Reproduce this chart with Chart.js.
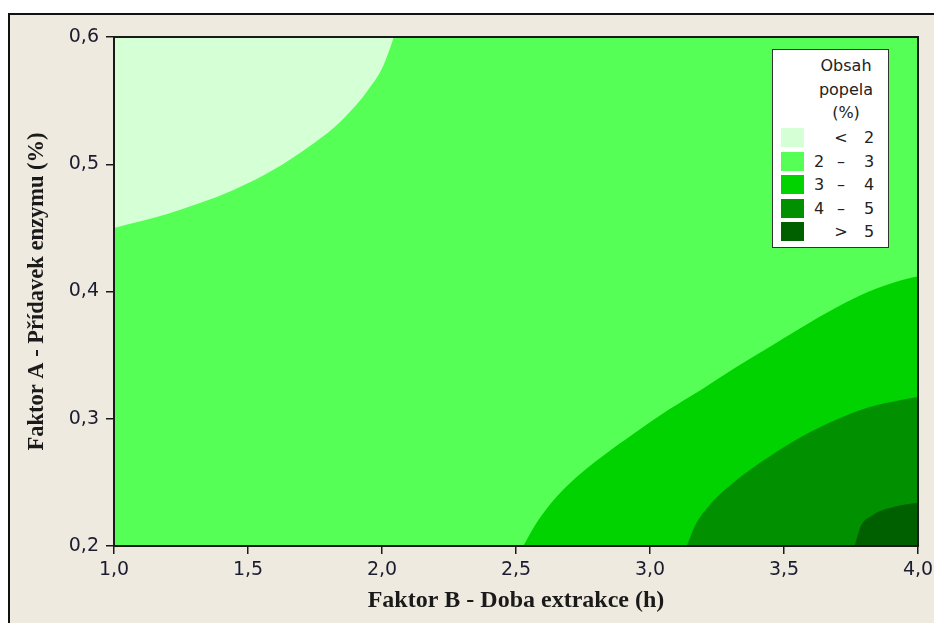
<!DOCTYPE html>
<html>
<head>
<meta charset="utf-8">
<script src="https://cdn.jsdelivr.net/npm/chart.js@4"></script>
<style>
  html, body { margin:0; padding:0; background:#ffffff; }
  #wrap { position:relative; width:934px; height:623px; overflow:hidden; }
  #frame { position:absolute; left:8px; top:13px; width:930px; height:620px; background:#efeae0;
           border-top:2px solid #111; border-left:2px solid #111; }
  #c { position:absolute; left:0; top:0; }
  #legend { position:absolute; left:772px; top:49px; width:115px; height:197px; background:#fff;
            border:1.5px solid #333; font-family:"DejaVu Sans", sans-serif; font-size:16px; color:#222; }
  #legend .title { position:absolute; left:38px; width:70px; text-align:center; line-height:23.5px; top:4px; }
  #legend .row { position:absolute; left:0; width:115px; height:19px; }
  #legend .sw { position:absolute; left:8px; top:0; width:23px; height:19px; }
  #legend .t { position:absolute; top:0; line-height:19px; text-align:center; width:16px; }
</style>
</head>
<body>
<div id="wrap">
  <div id="frame"></div>
  <canvas id="c" width="934" height="623"></canvas>
  <div id="legend"></div>
</div>
<script>
// ---- data ----
const xTicks = [1.0, 1.5, 2.0, 2.5, 3.0, 3.5, 4.0];
const yTicks = [0.2, 0.3, 0.4, 0.5, 0.6];

// level labels and colours
const levelLabels = [["", "<", "2"], ["2", "\u2013", "3"], ["3", "\u2013", "4"], ["4", "\u2013", "5"], ["", ">", "5"]];
const levelColors = ["#d5ffd5", "#55ff55", "#00d300", "#009000", "#006000"];

// contour boundary: level 2 (region < 2 lies above this curve)
const c2x = [1.000, 1.199, 1.448, 1.598, 1.722, 1.822, 1.897, 1.947, 1.997, 2.028, 2.044];
const c2y = [0.450, 0.461, 0.480, 0.496, 0.513, 0.529, 0.545, 0.558, 0.574, 0.590, 0.600];

// contour boundary: level 3 (region > 3 lies below)
const c3x = [2.527, 2.570, 2.632, 2.720, 2.819, 2.944, 3.069, 3.193, 3.318, 3.443, 3.567, 3.692, 3.817, 3.941, 4.000];
const c3y = [0.200, 0.216, 0.234, 0.253, 0.270, 0.289, 0.307, 0.323, 0.340, 0.356, 0.372, 0.387, 0.400, 0.409, 0.412];

// contour boundary: level 4
const c4x = [3.137, 3.168, 3.218, 3.318, 3.443, 3.567, 3.692, 3.817, 3.941, 4.000];
const c4y = [0.200, 0.216, 0.231, 0.251, 0.270, 0.286, 0.299, 0.309, 0.315, 0.317];

// contour boundary: level 5
const c5x = [3.764, 3.785, 3.829, 3.916, 4.000];
const c5y = [0.200, 0.215, 0.224, 0.231, 0.234];

// whole domain (base level 2-3)
const domX = [1.0, 4.0];
const domY = [0.6, 0.6];

const pts = (xs, ys) => xs.map((x, i) => ({x: x, y: ys[i]}));
const fmt = v => Number(v).toFixed(1).replace('.', ',');

function region(xs, ys, color, fill, order) {
  return { data: pts(xs, ys), borderWidth: 0, borderColor: color, backgroundColor: color,
           pointRadius: 0, fill: fill, cubicInterpolationMode: 'monotone', order: order };
}

const frameBorder = {
  id: 'frameBorder',
  afterDatasetsDraw(chart) {
    const a = chart.chartArea, ctx = chart.ctx;
    ctx.save();
    ctx.strokeStyle = '#1a1a1a';
    ctx.lineWidth = 2;
    ctx.strokeRect(a.left, a.top, a.right - a.left, a.bottom - a.top);
    ctx.restore();
  }
};

const tickFont = { family: '"DejaVu Sans", sans-serif', size: 19 };
const titleFontX = { family: '"Liberation Serif", "Times New Roman", serif', size: 24, weight: 'bold' };
const titleFontY = { family: '"Liberation Serif", "Times New Roman", serif', size: 22.5, weight: 'bold' };

new Chart(document.getElementById('c'), {
  type: 'line',
  data: {
    datasets: [
      region(domX, domY, levelColors[1], 'start', 5),
      region(c2x, c2y, levelColors[0], 'end', 4),
      region(c3x, c3y, levelColors[2], 'start', 3),
      region(c4x, c4y, levelColors[3], 'start', 2),
      region(c5x, c5y, levelColors[4], 'start', 1)
    ]
  },
  options: {
    responsive: false,
    animation: false,
    events: [],
    layout: { padding: { top: 37, right: 16, left: 0, bottom: 0 } },
    plugins: { legend: { display: false }, tooltip: { enabled: false } },
    scales: {
      x: {
        type: 'linear', min: xTicks[0], max: xTicks[xTicks.length - 1],
        afterBuildTicks: s => { s.ticks = xTicks.map(v => ({ value: v })); },
        afterFit: s => { s.height = 77; s.paddingLeft = 0; s.paddingRight = 0; },
        ticks: { callback: fmt, font: tickFont, color: '#1c1c30', padding: 5, maxRotation: 0 },
        grid: { display: true, drawOnChartArea: false, drawTicks: true, tickLength: 8, color: '#1a1a1a', lineWidth: 1.5 },
        border: { display: false },
        title: { display: true, text: 'Faktor B - Doba extrakce (h)', font: titleFontX, color: '#1a1a1a',
                 padding: { top: 0, bottom: 8 } }
      },
      y: {
        type: 'linear', min: yTicks[0], max: yTicks[yTicks.length - 1],
        afterBuildTicks: s => { s.ticks = yTicks.map(v => ({ value: v })); },
        afterFit: s => { s.width = 114; s.paddingTop = 0; s.paddingBottom = 0; },
        ticks: { callback: fmt, font: tickFont, color: '#1c1c30', padding: 7 },
        grid: { display: true, drawOnChartArea: false, drawTicks: true, tickLength: 8, color: '#1a1a1a', lineWidth: 1.5 },
        border: { display: false },
        title: { display: true, text: 'Faktor A - Přídavek enzymu (%)', font: titleFontY, color: '#1a1a1a',
                 padding: { top: 24, bottom: 0 } }
      }
    }
  },
  plugins: [frameBorder]
});

// ---- legend (HTML text) ----
const lg = document.getElementById('legend');
const title = document.createElement('div');
title.className = 'title';
title.innerHTML = 'Obsah<br>popela<br>(%)';
lg.appendChild(title);
levelLabels.forEach((lab, i) => {
  const row = document.createElement('div');
  row.className = 'row';
  row.style.top = (78 + i * 23.6) + 'px';
  const sw = document.createElement('div');
  sw.className = 'sw';
  sw.style.background = levelColors[i];
  row.appendChild(sw);
  const cols = [38, 60, 88];
  lab.forEach((t, j) => {
    const s = document.createElement('div');
    s.className = 't';
    s.style.left = cols[j] + 'px';
    s.textContent = t;
    row.appendChild(s);
  });
  lg.appendChild(row);
});
</script>
</body>
</html>
